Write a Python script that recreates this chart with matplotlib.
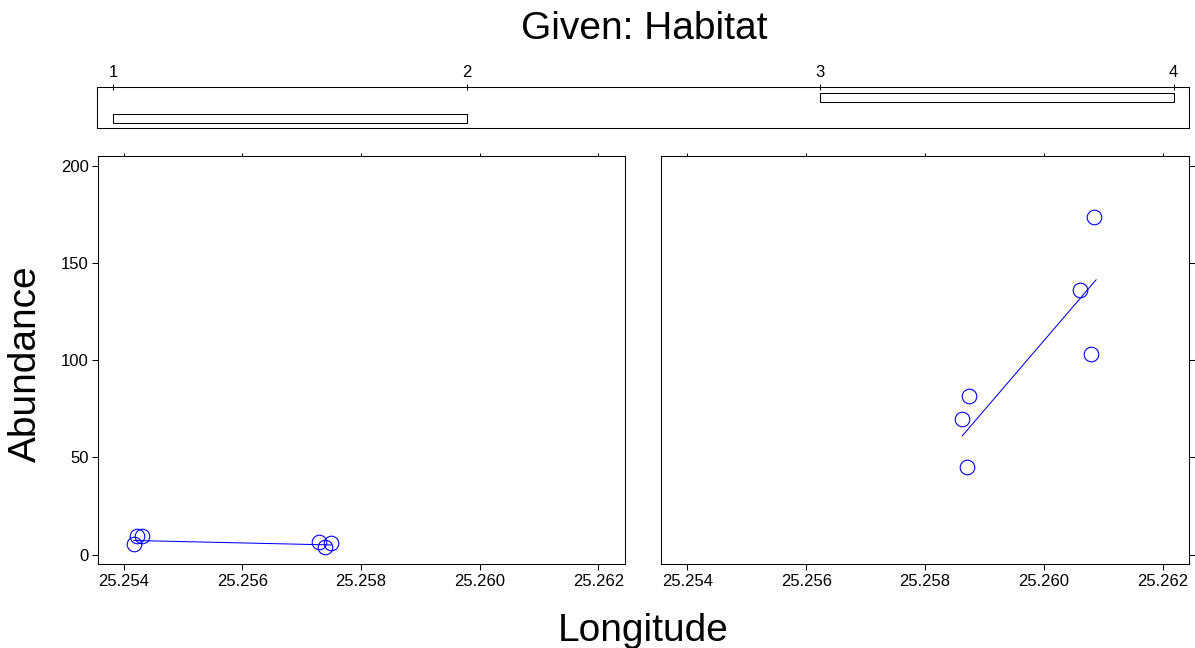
import matplotlib
matplotlib.use("Agg")
import matplotlib.pyplot as plt
from matplotlib.patches import Rectangle

plt.rcParams['font.family'] = ['Liberation Sans', 'DejaVu Sans']

# ---- data ----
habitat_ticks = [1, 2, 3, 4]
given_intervals = [(1, 2), (3, 4)]

lon_p1 = [25.25417, 25.25423, 25.25431, 25.25729, 25.25739, 25.25750]
abund_p1 = [5.6, 9.7, 9.4, 6.3, 3.9, 6.0]
lon_p2 = [25.25863, 25.25870, 25.25874, 25.26061, 25.26080, 25.26085]
abund_p2 = [69.7, 45.1, 81.5, 136.2, 103.4, 173.5]

smooth_x1 = [25.25417, 25.25750]
smooth_y1 = [7.3, 5.0]
smooth_x2 = [25.25863, 25.26088]
smooth_y2 = [61.2, 141.4]

x_ticks = [25.254, 25.256, 25.258, 25.260, 25.262]
x_labels = ["25.254", "25.256", "25.258", "25.260", "25.262"]
y_ticks = [0, 50, 100, 150, 200]

W, H = 1195, 648
fig = plt.figure(figsize=(W / 100, H / 100), dpi=100)


def ax_px(x0, x1, ytop, ybot):
    return fig.add_axes([x0 / W, 1 - ybot / H, (x1 - x0) / W, (ybot - ytop) / H])


LW = 0.75
BLUE = '#0000ff'
XLIM = (25.253562, 25.262450)
YLIM = (-4.8, 205.1)

panels = [
    (ax_px(97.7, 625.1, 156, 564), lon_p1, abund_p1, smooth_x1, smooth_y1, 'left'),
    (ax_px(661.4, 1189.3, 156, 564), lon_p2, abund_p2, smooth_x2, smooth_y2, 'right'),
]

for ax, xs, ys, sx, sy, side in panels:
    ax.plot(xs, ys, linestyle='none', marker='o', markersize=10.5,
            markerfacecolor='none', markeredgecolor=BLUE, markeredgewidth=0.8)
    ax.plot(sx, sy, color=BLUE, linewidth=0.75)
    ax.set_xlim(*XLIM)
    ax.set_ylim(*YLIM)
    for s in ax.spines.values():
        s.set_linewidth(LW)
    ax.set_xticks(x_ticks)
    ax.set_xticklabels(x_labels)
    ax.set_yticks(y_ticks)
    ax.tick_params(axis='x', which='both', direction='out', length=4.3, width=LW,
                   labelsize=12, pad=3, top=True, labeltop=False)
    if side == 'left':
        ax.tick_params(axis='y', direction='out', length=4.3, width=LW, labelsize=12,
                       pad=2, left=True, right=False, labelleft=True)
    else:
        ax.tick_params(axis='y', direction='out', length=4.3, width=LW, labelsize=12,
                       left=False, right=True, labelleft=False, labelright=False)

# shorter top ticks
for ax, *_ in panels:
    for t in ax.xaxis.get_major_ticks():
        t.tick2line.set_markersize(2.5)

# ---- given panel ----
gax = ax_px(97.3, 1189.3, 87.3, 127.7)
gax.set_xlim(0.9547, 4.044)
gax.set_ylim(0.534, 2.515)
for i, (a, b) in enumerate(given_intervals):
    gax.add_patch(Rectangle((a, (i + 1) - 0.22), b - a, 0.44, facecolor='white',
                            edgecolor='black', linewidth=LW))
for s in gax.spines.values():
    s.set_linewidth(LW)
gax.set_yticks([])
gax.set_xticks(habitat_ticks)
gax.set_xticklabels([str(v) for v in habitat_ticks])
gax.tick_params(axis='x', bottom=False, labelbottom=False, top=True, labeltop=True,
                direction='inout', length=5, width=LW, labelsize=12, pad=3)

# ---- titles ----
fig.text(644.7 / W, 1 - 39 / H, "Given: Habitat", ha='center', va='baseline', fontsize=28)
fig.text(643 / W, 1 - 641 / H, "Longitude", ha='center', va='baseline', fontsize=28)
fig.text(25.8 / W, 1 - 364 / H, "Abundance", ha='center', va='center', rotation=90, fontsize=28)

fig.savefig("out.png", dpi=100)
